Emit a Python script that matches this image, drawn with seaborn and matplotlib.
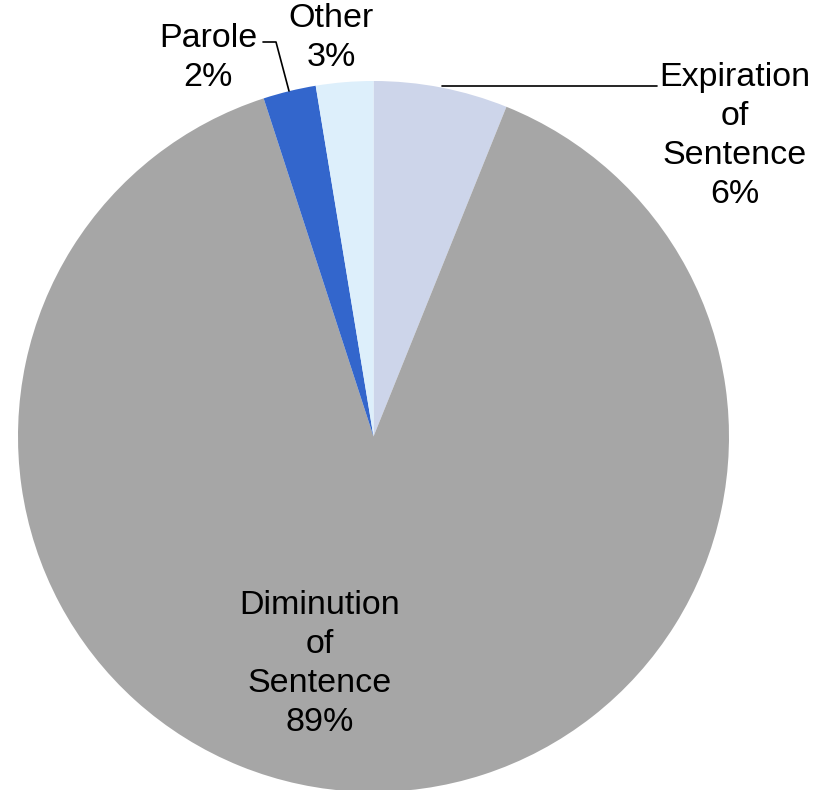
import matplotlib
matplotlib.use("Agg")
import matplotlib.pyplot as plt
import seaborn as sns

categories = ["Expiration of Sentence", "Diminution of Sentence", "Parole", "Other"]
values = [6.1, 88.9, 2.4, 2.6]
label_lines = ["Expiration\nof\nSentence", "Diminution\nof\nSentence", "Parole", "Other"]
colors = ["#CDD5EA", "#A6A6A6", "#3366CC", "#DDEFFB"]

sns.set_theme(style="white")
plt.rcParams['font.family'] = ['Liberation Sans', 'DejaVu Sans']

W, H = 829, 790
fig = plt.figure(figsize=(W / 100, H / 100), dpi=100)
cx, cy, r = 373.5, 436.5, 355.5
ax = fig.add_axes([(cx - r) / W, (H - cy - r) / H, 2 * r / W, 2 * r / H])

palette = sns.color_palette(colors)
ax.pie(values, colors=palette, startangle=90, counterclock=False,
       radius=1.0, wedgeprops=dict(linewidth=0))
ax.set_xlim(-1, 1)
ax.set_ylim(-1, 1)
ax.set_aspect('auto')
ax.axis('off')

def px2d(px, py):
    return (px - cx) / r, (cy - py) / r

total = sum(values)
pcts = [f"{round(v / total * 100)}%" for v in values]
label_pos = [(735, 136), (320, 664), (208, 58), (331, 38)]
fs = 24.5
for lab, pct, (px, py) in zip(label_lines, pcts, label_pos):
    x, y = px2d(px, py)
    ax.text(x, y, f"{lab}\n{pct}", ha='center', va='center', fontsize=fs,
            linespacing=1.33, color='black', clip_on=False)

# leader lines
x1, y1 = px2d(442, 86)
x2, y2 = px2d(657, 86)
ax.plot([x1, x2], [y1, y2], color='black', lw=1.2, clip_on=False)
pa, pb, pc = px2d(263, 42), px2d(276, 42), px2d(289, 91)
ax.plot([pa[0], pb[0], pc[0]], [pa[1], pb[1], pc[1]], color='black', lw=1.2, clip_on=False)

fig.savefig("out.png", dpi=100)
